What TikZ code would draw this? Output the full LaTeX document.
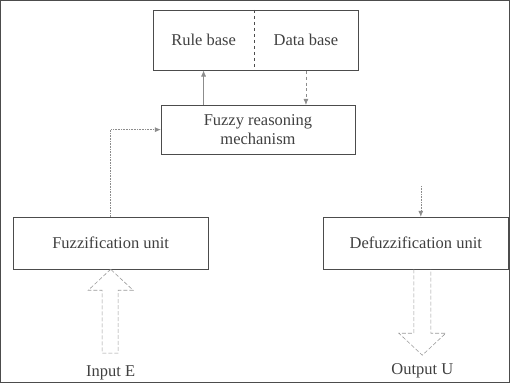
\documentclass[tikz,border=0pt]{standalone}
\usepackage{fontspec}
\setmainfont{Liberation Serif}
\usetikzlibrary{arrows.meta}
\begin{document}
\begin{tikzpicture}[x=1pt, y=-1pt,
  every path/.style={draw=black!70, line width=.06em},
  every node/.style={font={\fontsize{16.5}{19}\selectfont}, text=black!75, inner sep=0pt},
  box/.style={draw=black!70, rectangle, minimum height=52},
  arr/.style={draw=black!45, -{Latex[length=6,width=5]}},
  hollow/.style={draw=black!40, dashed, dash pattern=on 4pt off 2pt}]
\useasboundingbox (0,0) rectangle (510,382);
\node[minimum width=101, minimum height=60] (rule) at (203.5,40) {Rule base};
\node[minimum width=104, minimum height=60] (data) at (306,40) {Data base};
\draw (rule.north west) rectangle (data.south east);
\draw[dashed] (rule.north east) -- (rule.south east);
\node[box, minimum width=194, minimum height=49, align=center] (fuzzy) at (258,129.5) {Fuzzy reasoning\\mechanism};
\node[box, minimum width=195] (fuzzif) at (110.5,243) {Fuzzification unit};
\node[box, minimum width=186] (defuzz) at (416,243) {Defuzzification unit};
\coordinate (indef) at (421,186);
\node (input) at (110.5,373) {Input E};
\node (output) at (422.5,371) {Output U};
\draw[arr] (fuzzy.north -| rule.south) -- (rule.south);
\draw[arr, dashed] (data.south) -- (data.south |- fuzzy.north);
\draw[arr, densely dotted] (fuzzif.north) |- (fuzzy.west);
\draw[arr, densely dotted] (indef) -- (indef |- defuzz.north);
\draw[hollow] (fuzzif.south) -- ++(-22.5,21) -- ++(14,0) -- ++(0,63) -- ++(16,0) -- ++(0,-63) -- ++(15,0) -- cycle;
\draw[hollow] ([xshift=-2]defuzz.south) -- ++(0,64) -- ++(-15,0) -- ++(23.5,22) -- ++(23.5,-22) -- ++(-15,0) -- ++(0,-64);
\end{tikzpicture}
\end{document}
